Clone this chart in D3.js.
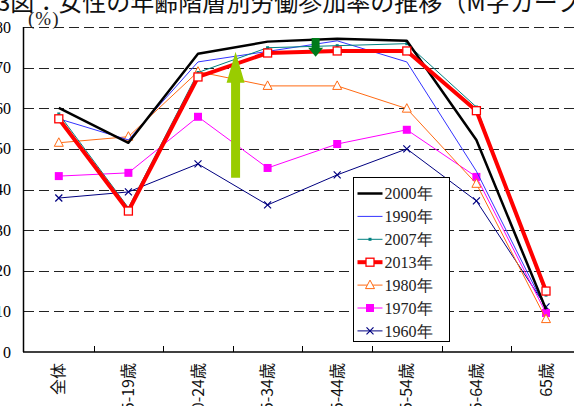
<!DOCTYPE html>
<html>
<head>
<meta charset="utf-8">
<script src="https://cdn.jsdelivr.net/npm/d3@7"></script>
<style>
  body { margin: 0; background: #fff; }
  svg { display: block; }
</style>
</head>
<body>
<div id="chart"></div>
<script>
// age groups (x axis)
var ageGroups = ["全体", "15-19歳", "20-24歳", "25-34歳", "35-44歳", "45-54歳", "55-64歳", "65歳"];
var yTicks = [0, 10, 20, 30, 40, 50, 60, 70, 80];

// participation rate (%) per year
var rate2000 = [60.1, 51.5, 73.4, 76.4, 77.1, 76.6, 52.2, 10.5];
var rate1990 = [57.4, 52.2, 71.4, 74.0, 76.6, 71.4, 44.5, 10.5];
var rate2007 = [58.6, 35.5, 68.8, 74.9, 75.4, 75.9, 60.3, 14.0];
var rate2013 = [57.4, 34.7, 67.7, 73.6, 74.1, 74.1, 59.4, 15.0];
var rate1980 = [51.5, 53.0, 69.0, 65.5, 65.5, 59.9, 41.4, 8.1];
var rate1970 = [43.3, 44.1, 57.9, 45.3, 51.2, 54.7, 43.1, 9.6];
var rate1960 = [37.9, 39.4, 46.3, 36.2, 43.6, 50.0, 37.2, 11.1];

// legend order
var series = [
    { name: "2000年", values: rate2000, color: "#000000", width: 2.5, marker: "none" },
    { name: "1990年", values: rate1990, color: "#3333ff", width: 1, marker: "none" },
    { name: "2007年", values: rate2007, color: "#008080", width: 1, marker: "dot" },
    { name: "2013年", values: rate2013, color: "#ff0000", width: 4, marker: "square-open" },
    { name: "1980年", values: rate1980, color: "#ff6a13", width: 1, marker: "triangle" },
    { name: "1970年", values: rate1970, color: "#ff00ff", width: 1, marker: "square" },
    { name: "1960年", values: rate1960, color: "#000080", width: 1, marker: "cross" }
];
// drawing order (back to front)
var drawOrder = ["1960年", "1970年", "1980年", "1990年", "2007年", "2000年", "2013年"];

// annotation arrows: position as category index, from/to values
var arrowUp = { pos: 2.54, from: 42.9, to: 73.9 };
var arrowDown = { pos: 3.69, from: 77.3, to: 72.7 };

var W = 574, H = 406;
var svg = d3.select("#chart").append("svg")
    .attr("width", W)
    .attr("height", H);

// scales
var x = d3.scaleBand().domain(ageGroups).range([24, 24 + 8 * 69.6]);
var xi = d3.scaleLinear().domain([0, 7]).range([x(ageGroups[0]) + x.bandwidth() / 2, x(ageGroups[7]) + x.bandwidth() / 2]);
var y = d3.scaleLinear().domain([0, 80]).range([352, 27]);

// title (cut off at top in the original)
svg.append("text")
    .attr("x", -27)
    .attr("y", 11)
    .attr("font-family", "'Noto Sans CJK JP', sans-serif")
    .attr("font-size", "24px")
    .attr("fill", "#111")
    .text("第3図：女性の年齢階層別労働参加率の推移（M字カーブ）");

// unit label
svg.append("text")
    .attr("x", 28)
    .attr("y", 25)
    .attr("font-family", "'Liberation Serif', serif")
    .attr("font-size", "19px")
    .attr("letter-spacing", "1px")
    .attr("fill", "#222")
    .text("(%)");

// gridlines
svg.append("g").selectAll("line")
    .data(yTicks.filter(function(d){ return d > 0; }))
    .enter().append("line")
        .attr("x1", 24)
        .attr("x2", W)
        .attr("y1", function(d){ return Math.round(y(d)) + 0.5; })
        .attr("y2", function(d){ return Math.round(y(d)) + 0.5; })
        .attr("stroke", "#222")
        .attr("stroke-width", 1)
        .attr("stroke-dasharray", "10,5");

// y axis labels
svg.append("g").selectAll("text")
    .data(yTicks)
    .enter().append("text")
        .attr("x", 11)
        .attr("y", function(d){ return y(d); })
        .attr("dy", "0.35em")
        .attr("text-anchor", "end")
        .attr("font-family", "'Liberation Serif', serif")
        .attr("font-size", "16px")
        .text(function(d){ return d; });

// axis lines
svg.append("line")
    .attr("x1", 23.5).attr("x2", 23.5)
    .attr("y1", y(80)).attr("y2", y(0))
    .attr("stroke", "#000").attr("stroke-width", 1.5);
svg.append("line")
    .attr("x1", 23).attr("x2", W)
    .attr("y1", y(0)).attr("y2", y(0))
    .attr("stroke", "#000").attr("stroke-width", 1.5);

// x ticks (pointing up into the plot)
svg.append("g").selectAll("line")
    .data(ageGroups.slice(1))
    .enter().append("line")
        .attr("x1", function(d){ return Math.round(x(d)) + 0.5; })
        .attr("x2", function(d){ return Math.round(x(d)) + 0.5; })
        .attr("y1", y(0))
        .attr("y2", y(0) - 6)
        .attr("stroke", "#000");

// x labels, rotated
svg.append("g").selectAll("text")
    .data(ageGroups)
    .enter().append("text")
        .attr("transform", function(d){
            return "translate(" + (x(d) + x.bandwidth() / 2) + ",363) rotate(-90)";
        })
        .attr("dy", "0.35em")
        .attr("text-anchor", "end")
        .attr("font-family", "'Noto Sans CJK JP', sans-serif")
        .attr("font-size", "16px")
        .attr("fill", "#111")
        .text(function(d){ return d; });

// lines
var line = d3.line()
    .x(function(d, i){ return x(ageGroups[i]) + x.bandwidth() / 2; })
    .y(function(d){ return y(d); });

function drawMarker(g, type, color, cx, cy){
    if (type == "square-open"){
        g.append("rect").attr("x", cx - 4).attr("y", cy - 4).attr("width", 8).attr("height", 8)
            .attr("fill", "#fff").attr("stroke", color).attr("stroke-width", 1.3);
    } else if (type == "square"){
        g.append("rect").attr("x", cx - 4).attr("y", cy - 4).attr("width", 8).attr("height", 8)
            .attr("fill", color);
    } else if (type == "triangle"){
        g.append("path").attr("d", "M" + cx + "," + (cy - 5) + "L" + (cx + 4.5) + "," + (cy + 3.5) + "L" + (cx - 4.5) + "," + (cy + 3.5) + "Z")
            .attr("fill", "#fff").attr("stroke", color).attr("stroke-width", 1);
    } else if (type == "cross"){
        g.append("path").attr("d", "M" + (cx - 3.5) + "," + (cy - 3.5) + "L" + (cx + 3.5) + "," + (cy + 3.5) +
            "M" + (cx + 3.5) + "," + (cy - 3.5) + "L" + (cx - 3.5) + "," + (cy + 3.5))
            .attr("stroke", color).attr("stroke-width", 1.2);
    } else if (type == "dot"){
        g.append("rect").attr("x", cx - 1.5).attr("y", cy - 1.5).attr("width", 3).attr("height", 3)
            .attr("fill", color);
    }
}

drawOrder.forEach(function(name){
    var s = series.filter(function(d){ return d.name == name; })[0];
    var g = svg.append("g");
    g.append("path")
        .attr("d", line(s.values))
        .attr("fill", "none")
        .attr("stroke", s.color)
        .attr("stroke-width", s.width)
        .attr("stroke-linejoin", "round");
    s.values.forEach(function(v, i){
        drawMarker(g, s.marker, s.color, x(ageGroups[i]) + x.bandwidth() / 2, y(v));
    });
});

// arrows
function arrow(a, color, shaftW, headW, headL){
    var cx = xi(a.pos), y0 = y(a.from), y1 = y(a.to);
    var dir = y1 < y0 ? 1 : -1;   // 1 = pointing up
    var hb = y1 + dir * headL;
    var p = d3.path();
    p.moveTo(cx - shaftW / 2, y0);
    p.lineTo(cx - shaftW / 2, hb);
    p.lineTo(cx - headW / 2, hb);
    p.lineTo(cx, y1);
    p.lineTo(cx + headW / 2, hb);
    p.lineTo(cx + shaftW / 2, hb);
    p.lineTo(cx + shaftW / 2, y0);
    p.closePath();
    svg.append("path").attr("d", p.toString()).attr("fill", color);
}
arrow(arrowUp, "#99cc00", 9, 18, 31);
arrow(arrowDown, "#007a1a", 8, 15, 9);

// legend
var legend = svg.append("g").attr("transform", "translate(353.5,177.5)");
legend.append("rect")
    .attr("width", 96)
    .attr("height", 164)
    .attr("fill", "#fff")
    .attr("stroke", "#000")
    .attr("stroke-width", 1);

series.forEach(function(s, i){
    var ly = 16 + i * 22.9;
    var row = legend.append("g");
    row.append("line")
        .attr("x1", 4).attr("x2", 29)
        .attr("y1", ly).attr("y2", ly)
        .attr("stroke", s.color)
        .attr("stroke-width", s.width);
    drawMarker(row, s.marker, s.color, 16.5, ly);
    row.append("text")
        .attr("x", 31)
        .attr("y", ly)
        .attr("dy", "0.35em")
        .attr("font-family", "'Liberation Serif', serif")
        .attr("font-size", "16px")
        .attr("fill", "#222")
        .text(s.name);
});
</script>
</body>
</html>
